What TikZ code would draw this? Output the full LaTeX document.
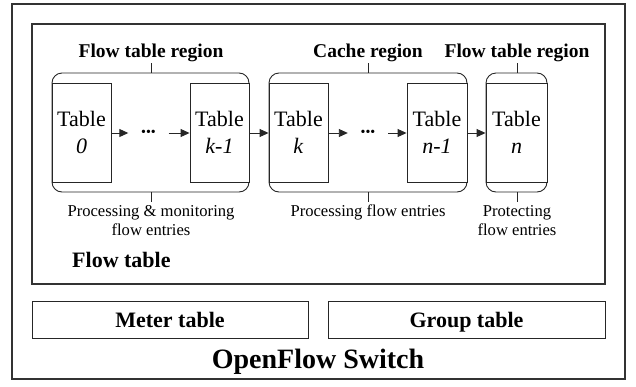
\documentclass[tikz,border=0pt]{standalone}
\usepackage{fontspec}
\setmainfont{Liberation Serif}
\usetikzlibrary{arrows.meta}
\begin{document}
\begin{tikzpicture}[x=1pt,y=-1pt,
 line/.style={draw=black!85, line width=0.9pt},
 outerbox/.style={draw=black!80, line width=1.1pt},
 tablebox/.style={line, fill=white, minimum width=59pt, minimum height=99pt, inner sep=0pt, align=center, font=\fontsize{22}{27}\selectfont},
 regionbox/.style={line, rounded corners=10pt, minimum height=119pt, inner sep=0pt},
 regionlabel/.style={anchor=south, inner sep=1pt, font=\fontsize{19.5}{21}\selectfont\bfseries},
 rolelabel/.style={anchor=north, inner sep=3pt, align=center, font=\fontsize{16.6}{19}\selectfont},
 flowarrow/.style={line, -{Triangle[length=9pt,width=8pt]}},
 dotsnode/.style={minimum width=40pt, inner sep=0pt, font=\fontsize{14}{14}\selectfont},
 subbox/.style={line, minimum height=37pt, inner sep=0pt, text height=17pt, text depth=2pt, font=\fontsize{22}{24}\selectfont\bfseries},
]
\useasboundingbox (0,0) rectangle (636,386);
% outer switch box and flow table box
\draw[outerbox] (12,4) rectangle (625,379);
\draw[outerbox] (32,24) rectangle (605,284);
% regions
\node[regionbox, minimum width=197pt] (r1) at (150.5,132.5) {};
\node[regionbox, minimum width=198pt] (r2) at (368,132.5) {};
\node[regionbox, minimum width=61pt] (r3) at (516.5,132.5) {};
% tables
\node[tablebox] (t0) at (81.5,132.5) {Table\\\textit{0}};
\node[tablebox] (tk1) at (219.5,132.5) {Table\\\textit{k-1}};
\node[tablebox] (tk) at (298.5,132.5) {Table\\\textit{k}};
\node[tablebox, minimum width=60pt] (tn1) at (437,132.5) {Table\\\textit{n-1}};
\node[tablebox, minimum width=61pt] (tn) at (516.5,132.5) {Table\\\textit{n}};
% dots
\node[dotsnode] (d1) at (148.5,133) {•••};
\node[dotsnode] (d2) at (368,133) {•••};
% arrows
\draw[flowarrow] (t0.east |- d1) -- (d1.west);
\draw[flowarrow] (d1.east) -- (tk1.west |- d1);
\draw[flowarrow] (tk1.east |- d1) -- (tk.west |- d1);
\draw[flowarrow] (tk.east |- d2) -- (d2.west);
\draw[flowarrow] (d2.east) -- (tn1.west |- d2);
\draw[flowarrow] (tn1.east |- d2) -- (tn.west |- d2);
% region labels
\node[regionlabel] (l1) at (151,63) {Flow table region};
\node[regionlabel] (l2) at (368,63) {Cache region};
\node[regionlabel] (l3) at (517,63) {Flow table region};
\draw[line] (l1.south) -- (l1.south |- r1.north);
\draw[line] (l2.south) -- (l2.south |- r2.north);
\draw[line] (l3.south) -- (l3.south |- r3.north);
% role labels
\node[rolelabel] (b1) at (151,202) {Processing \& monitoring\\flow entries};
\node[rolelabel] (b2) at (368,202) {Processing flow entries};
\node[rolelabel] (b3) at (517,202) {Protecting\\flow entries};
\draw[line] (b1.north |- r1.south) -- (b1.north);
\draw[line] (b2.north |- r2.south) -- (b2.north);
\draw[line] (b3.north |- r3.south) -- (b3.north);
% flow table title
\node[anchor=base west, inner sep=0pt, font=\fontsize{22}{24}\selectfont\bfseries] (ft) at (72,267) {Flow table};
% meter and group
\node[subbox, minimum width=276pt] (meter) at (170,319.5) {Meter table};
\node[subbox, minimum width=277pt] (group) at (466.5,319.5) {Group table};
% switch title
\node[anchor=base, inner sep=0pt, font=\fontsize{28}{30}\selectfont\bfseries] (sw) at (318,368) {OpenFlow Switch};
\end{tikzpicture}
\end{document}
